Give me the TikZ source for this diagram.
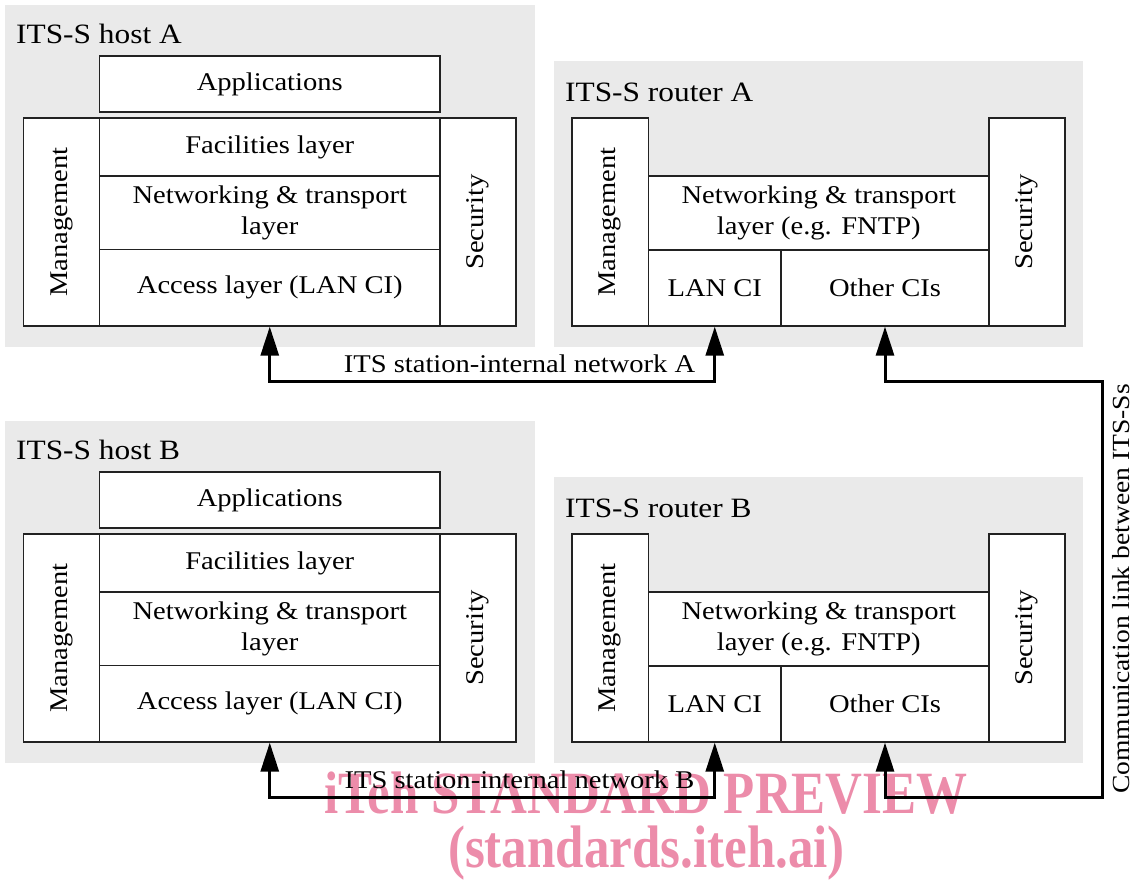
\documentclass[tikz,border=0pt]{standalone}
\usepackage{fontspec}
\setmainfont{Liberation Serif}[FakeStretch=1.12]
\newfontfamily\markfamily{Liberation Serif}[FakeStretch=0.85]
\usetikzlibrary{arrows.meta}

\definecolor{panelgray}{HTML}{EAEAEA}
\definecolor{framecol}{HTML}{222222}
\definecolor{markpink}{RGB}{236,140,170}

\newcommand\bodyfont{\fontsize{25.5}{31}\selectfont}
\newcommand\linkfont{\fontsize{24.6}{30}\selectfont}
\newcommand\titlefont{\fontsize{28}{32}\selectfont}
\newcommand\markfont{\markfamily\bfseries\fontsize{60}{64}\selectfont}

% rectangular cell given by its corners: name, x1, y1, x2, y2, text
\newcommand\cellbox[6]{%
  \node[cell, minimum width={#4-#2}, minimum height={#5-#3}]
    (#1) at ({(#2+#4)/2},{(#3+#5)/2}) {#6};}

\begin{document}
\begin{tikzpicture}[x=1pt,y=-1pt,
  panel/.style={fill=panelgray, draw=none},
  cell/.style={draw=framecol, line width=1.3pt, fill=white, inner sep=0pt,
    align=center, font=\bodyfont},
  sidetext/.style={rotate=90, font=\bodyfont, inner sep=0pt},
  paneltitle/.style={anchor=base west, font=\titlefont, inner sep=0pt},
  wirelabel/.style={anchor=base, font=\bodyfont, inner sep=0pt},
  wire/.style={line width=3pt, draw=black,
    arrows={Triangle[length=29pt,width=18pt]-Triangle[length=29pt,width=18pt]}},
  watermark/.style={anchor=base, font=\markfont, text=markpink, inner sep=0pt}]

\useasboundingbox (0,0) rectangle (1134,879);

% grey station panels
\fill[panel] (5,5) rectangle (535,347);
\fill[panel] (554,61) rectangle (1083,347);
\fill[panel] (5,421) rectangle (535,763);
\fill[panel] (554,477) rectangle (1083,763);

% panel titles
\node[paneltitle] (tHA) at (16,43) {ITS-S host A};
\node[paneltitle] (tRA) at (565,101) {ITS-S router A};
\node[paneltitle] (tHB) at (16,459) {ITS-S host B};
\node[paneltitle] (tRB) at (565,517) {ITS-S router B};

% host A stack
\cellbox{appA}{99.5}{56}{440}{112}{Applications}
\cellbox{mgmtA}{23.5}{118}{99.5}{326}{}
\cellbox{facA}{99.5}{118}{440}{176}{Facilities layer}
\cellbox{netA}{99.5}{176}{440}{249.5}{Networking \& transport\\layer}
\cellbox{accA}{99.5}{249.5}{440}{326}{Access layer (LAN CI)}
\cellbox{secA}{440}{118}{516}{326}{}
\node[sidetext] at (mgmtA) {Management};
\node[sidetext] at (secA) {Security};

% router A stack
\cellbox{mgmtRA}{572}{118}{648.5}{326}{}
\cellbox{netRA}{648.5}{176}{989}{250}{Networking \& transport\\layer (e.g. FNTP)}
\cellbox{lanRA}{648.5}{250}{781}{326}{LAN CI}
\cellbox{othRA}{781}{250}{989}{326}{Other CIs}
\cellbox{secRA}{989}{118}{1065}{326}{}
\node[sidetext] at (mgmtRA) {Management};
\node[sidetext] at (secRA) {Security};

% host B stack
\cellbox{appB}{99.5}{472}{440}{528}{Applications}
\cellbox{mgmtB}{23.5}{534}{99.5}{742}{}
\cellbox{facB}{99.5}{534}{440}{592}{Facilities layer}
\cellbox{netB}{99.5}{592}{440}{665.5}{Networking \& transport\\layer}
\cellbox{accB}{99.5}{665.5}{440}{742}{Access layer (LAN CI)}
\cellbox{secB}{440}{534}{516}{742}{}
\node[sidetext] at (mgmtB) {Management};
\node[sidetext] at (secB) {Security};

% router B stack
\cellbox{mgmtRB}{572}{534}{648.5}{742}{}
\cellbox{netRB}{648.5}{592}{989}{666}{Networking \& transport\\layer (e.g. FNTP)}
\cellbox{lanRB}{648.5}{666}{781}{742}{LAN CI}
\cellbox{othRB}{781}{666}{989}{742}{Other CIs}
\cellbox{secRB}{989}{534}{1065}{742}{}
\node[sidetext] at (mgmtRB) {Management};
\node[sidetext] at (secRB) {Security};

% preview mark
\node[watermark] (wm1) at (646,813) {iTeh STANDARD PREVIEW};
\node[watermark] (wm2) at (646.5,867) {(standards.iteh.ai)};

% routing levels of the links
\coordinate (lineA) at (0,381);
\coordinate (lineB) at (0,797);
\coordinate (linkX) at (1102,0);

% station-internal networks
\draw[wire] (accA.south) -- (accA.south |- lineA) -- (lanRA.south |- lineA) -- (lanRA.south);
\draw[wire] (accB.south) -- (accB.south |- lineB) -- (lanRB.south |- lineB) -- (lanRB.south);

% link between the two stations
\draw[wire] (othRA.south) -- (othRA.south |- lineA) -- (linkX |- lineA)
  -- (linkX |- lineB) -- (othRB.south |- lineB) -- (othRB.south);

% link labels
\node[wirelabel] (lblA) at (519.5,372) {ITS station-internal network A};
\node[wirelabel] (lblB) at (519.5,788) {ITS station-internal network B};
\node[rotate=90, anchor=base, font=\linkfont, inner sep=0pt] (lblL) at (1129,589)
  {Communication link between ITS-Ss};

\end{tikzpicture}
\end{document}
